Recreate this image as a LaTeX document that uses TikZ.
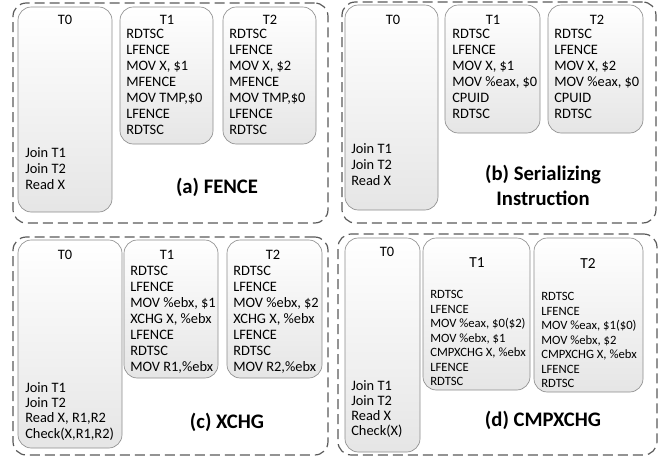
\documentclass[tikz,border=0pt]{standalone}
\usepackage{fontspec}
\setmainfont{Carlito}
\usetikzlibrary{fit, positioning}

\begin{document}
\begin{tikzpicture}[
    x=0.75pt, y=-0.75pt,
    panel/.style={draw=black!65, line width=0.9pt, dash pattern=on 7.5pt off 3.75pt, rounded corners=10pt, inner sep=0pt},
    thread/.style={draw=black!45, line width=0.5pt, rounded corners=10pt, top color=white, bottom color=black!10, inner sep=0pt},
    head/.style={anchor=north, inner sep=0pt, font=\fontsize{10.8}{12}\selectfont},
    code/.style={anchor=north west, inner sep=0pt, align=left, font=\fontsize{10.8}{12}\selectfont},
    smallcode/.style={code, font=\fontsize{9.5}{10.9}\selectfont},
    caption/.style={align=center, inner sep=0pt, font=\fontsize{15.5}{18.75}\selectfont\bfseries}
]
\useasboundingbox (0,0) rectangle (665,461);

% Outer panels
\node[panel, fit={(13,3) (328,223)}] (PanelA) {};
\node[panel, fit={(342,2) (656,223)}] (PanelB) {};
\node[panel, fit={(13,237) (328,455)}] (PanelC) {};
\node[panel, fit={(338,234) (657,455)}] (PanelD) {};

% (a) FENCE
\node[thread, fit={(18,7) (112,212)}] (aT0) {};
\node[thread, fit={(120,7) (213,144)}] (aT1) {};
\node[thread, fit={(223,7) (316,144)}] (aT2) {};
\node[head] (aT0h) at (65,15) {T0};
\node[head] (aT1h) at (167,15) {T1};
\node[head] (aT2h) at (270,15) {T2};
\node[code] (aT0c) at (25,147) {Join T1\\Join T2\\Read X};
\node[code] (aT1c) at (126,29) {RDTSC\\LFENCE\\MOV X, \$1\\MFENCE\\MOV TMP,\$0\\LFENCE\\RDTSC};
\node[code] (aT2c) at (229,29) {RDTSC\\LFENCE\\MOV X, \$2\\MFENCE\\MOV TMP,\$0\\LFENCE\\RDTSC};
\node[caption] (aCap) at (217,187) {(a) FENCE};

% (b) Serializing Instruction
\node[thread, fit={(345,5) (438,210)}] (bT0) {};
\node[thread, fit={(445,5) (540,133)}] (bT1) {};
\node[thread, fit={(548,5) (643,133)}] (bT2) {};
\node[head] (bT0h) at (393,15) {T0};
\node[head] (bT1h) at (493,15) {T1};
\node[head] (bT2h) at (597,15) {T2};
\node[code] (bT0c) at (351,143) {Join T1\\Join T2\\Read X};
\node[code] (bT1c) at (452,29) {RDTSC\\LFENCE\\MOV X, \$1\\MOV \%eax, \$0\\CPUID\\RDTSC};
\node[code] (bT2c) at (554,29) {RDTSC\\LFENCE\\MOV X, \$2\\MOV \%eax, \$0\\CPUID\\RDTSC};
\node[caption] (bCap) at (543,185) {(b) Serializing\\Instruction};

% (c) XCHG
\node[thread, fit={(18,240) (122,448)}] (cT0) {};
\node[thread, fit={(124,240) (218,378)}] (cT1) {};
\node[thread, fit={(227,240) (322,378)}] (cT2) {};
\node[head] (cT0h) at (65,250) {T0};
\node[head] (cT1h) at (167,250) {T1};
\node[head] (cT2h) at (273,250) {T2};
\node[code, font=\fontsize{10.8}{11.5}\selectfont] (cT0c) at (25,382) {Join T1\\Join T2\\Read X, R1,R2\\Check(X,R1,R2)};
\node[code] (cT1c) at (130,266) {RDTSC\\LFENCE\\MOV \%ebx, \$1\\XCHG X, \%ebx\\LFENCE\\RDTSC\\MOV R1,\%ebx};
\node[code] (cT2c) at (233,266) {RDTSC\\LFENCE\\MOV \%ebx, \$2\\XCHG X, \%ebx\\LFENCE\\RDTSC\\MOV R2,\%ebx};
\node[caption] (cCap) at (227,422) {(c) XCHG};

% (d) CMPXCHG
\node[thread, fit={(345,238) (420,452)}] (dT0) {};
\node[thread, fit={(423,238) (530,390)}] (dT1) {};
\node[thread, fit={(534,238) (643,392)}] (dT2) {};
\node[head] (dT0h) at (387,247) {T0};
\node[head, font=\fontsize{11.5}{13}\selectfont] (dT1h) at (477,257) {T1};
\node[head, font=\fontsize{11.5}{13}\selectfont] (dT2h) at (588,258) {T2};
\node[code, font=\fontsize{10.8}{11.25}\selectfont] (dT0c) at (351,380) {Join T1\\Join T2\\Read X\\Check(X)};
\node[smallcode] (dT1c) at (430,290) {RDTSC\\LFENCE\\MOV \%eax, \$0(\$2)\\MOV \%ebx, \$1\\CMPXCHG X, \%ebx\\LFENCE\\RDTSC};
\node[smallcode] (dT2c) at (541,292) {RDTSC\\LFENCE\\MOV \%eax, \$1(\$0)\\MOV \%ebx, \$2\\CMPXCHG X, \%ebx\\LFENCE\\RDTSC};
\node[caption] (dCap) at (543,420) {(d) CMPXCHG};

\end{tikzpicture}
\end{document}
